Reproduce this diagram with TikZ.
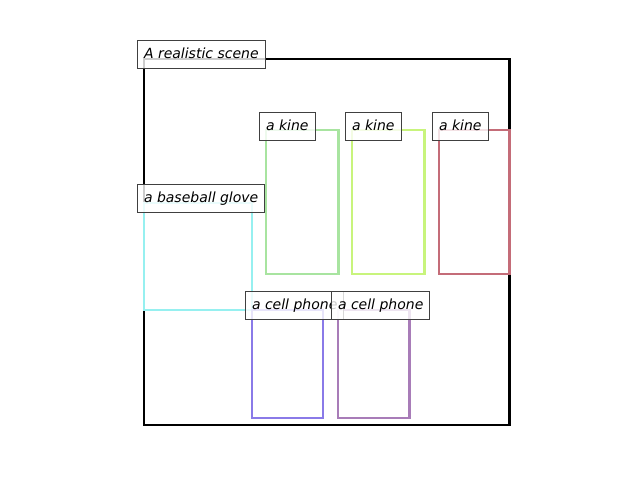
\documentclass[tikz,border=0pt]{standalone}
\usepackage{fontspec}
\setmainfont{DejaVu Sans}
\begin{document}
\begin{tikzpicture}[x=1pt,y=-1pt,
  bbox/.style={line width=2.2pt},
  lbl/.style={anchor=west,draw=black!75,line width=1pt,fill=white,fill opacity=0.8,text opacity=1,
    font=\fontsize{14}{16}\selectfont\itshape,inner xsep=6.5pt,inner ysep=7pt,text height=10.8pt,text depth=3pt}]
\definecolor{cgreen}{RGB}{168,228,160}
\definecolor{cyg}{RGB}{200,244,124}
\definecolor{cred}{RGB}{196,108,120}
\definecolor{ccyan}{RGB}{150,240,240}
\definecolor{cblue}{RGB}{138,122,232}
\definecolor{cpurp}{RGB}{168,124,184}
\useasboundingbox (0,0) rectangle (640,480);
\draw[bbox,black] (144,59) rectangle (509.5,425);
\draw[bbox,cgreen] (266,130) rectangle (338.5,274);
\draw[bbox,cyg] (352,130) rectangle (424.5,274);
\draw[bbox,cred] (439,130) rectangle (509.5,274);
\draw[bbox,ccyan] (144,203) rectangle (252,310);
\draw[bbox,cblue] (252,310) rectangle (323,418);
\draw[bbox,cpurp] (338,310) rectangle (409.5,418);
\node[lbl] (scene) at (137,54.5) {A realistic scene};
\node[lbl] (k1) at (259,126.5) {a kine};
\node[lbl] (k2) at (345,126.5) {a kine};
\node[lbl] (k3) at (432,126.5) {a kine};
\node[lbl] (glove) at (137,198.5) {a baseball glove};
\node[lbl] (p1) at (245,305.5) {a cell phone};
\node[lbl] (p2) at (331,305.5) {a cell phone};
\end{tikzpicture}
\end{document}
